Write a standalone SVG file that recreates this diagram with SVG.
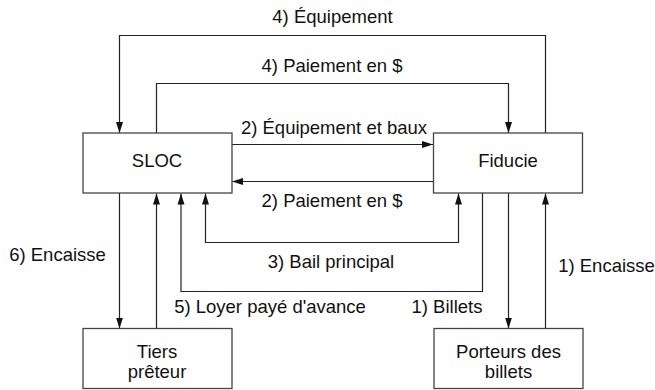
<svg xmlns="http://www.w3.org/2000/svg" width="655" height="390" viewBox="0 0 655 390">
<style>
.box{fill:#fff;stroke:#444;stroke-width:1.3}
.ln{fill:none;stroke:#222;stroke-width:1.2}
text{font-family:"Liberation Sans",Arial,sans-serif;font-size:18.5px;fill:#111;text-anchor:middle}
</style>
<defs>
<marker id="ah" markerUnits="userSpaceOnUse" markerWidth="11" markerHeight="8" refX="11" refY="4" orient="auto-start-reverse">
<path d="M0,0.5 L11,4 L0,7.5 z" fill="#111"/>
</marker>
</defs>
<rect width="655" height="390" fill="#fff"/>
<g id="connectors">
<path class="ln" d="M545.5 133 V35.5 H119.5 V133" marker-end="url(#ah)"/>
<path class="ln" d="M156.5 133 V83.5 H508.5 V133" marker-end="url(#ah)"/>
<path class="ln" d="M232 144.5 H433" marker-end="url(#ah)"/>
<path class="ln" d="M433 181.5 H232" marker-end="url(#ah)"/>
<path class="ln" d="M205.5 193.5 V242.5 H458.5 V193.5" marker-start="url(#ah)" marker-end="url(#ah)"/>
<path class="ln" d="M482.5 193 V291.5 H181 V193.5" marker-end="url(#ah)"/>
<path class="ln" d="M508.5 193 V328.5" marker-end="url(#ah)"/>
<path class="ln" d="M545.5 328.5 V193.5" marker-end="url(#ah)"/>
<path class="ln" d="M119.5 193 V328.5" marker-end="url(#ah)"/>
<path class="ln" d="M156.5 328.5 V193.5" marker-end="url(#ah)"/>
<text x="332.5" y="23">4) Équipement</text>
<text x="332" y="72">4) Paiement en $</text>
<text x="334" y="134">2) Équipement et baux</text>
<text x="332" y="207">2) Paiement en $</text>
<text x="331" y="268">3) Bail principal</text>
<text x="270" y="313">5) Loyer payé d'avance</text>
<text x="447" y="313">1) Billets</text>
<text x="57.5" y="261">6) Encaisse</text>
<text x="606.5" y="272">1) Encaisse</text>
</g>
<g id="sloc">
<rect class="box" x="83" y="133" width="149" height="60"/>
<text x="157" y="167">SLOC</text>
</g>
<g id="fiducie">
<rect class="box" x="433.5" y="133" width="149" height="60"/>
<text x="508" y="167">Fiducie</text>
</g>
<g id="tiers">
<rect class="box" x="83" y="328.5" width="149" height="60"/>
<text x="157" y="358">Tiers</text>
<text x="157" y="378">prêteur</text>
</g>
<g id="porteurs">
<rect class="box" x="434" y="328.5" width="149" height="60"/>
<text x="508.5" y="358">Porteurs des</text>
<text x="508.5" y="378">billets</text>
</g>
</svg>
